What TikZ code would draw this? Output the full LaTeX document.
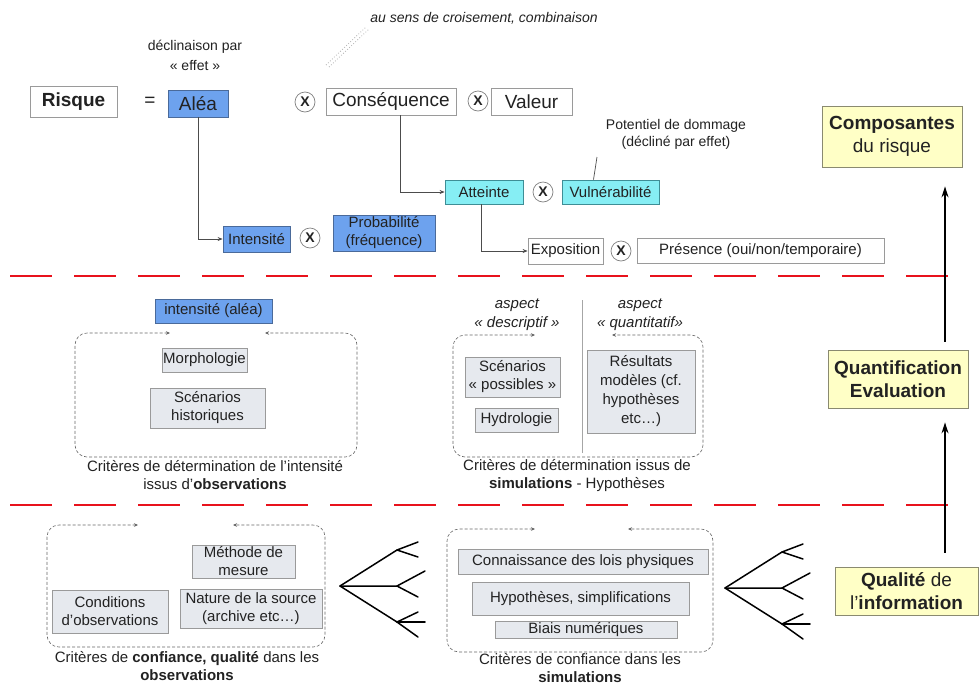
\documentclass[tikz,border=0pt]{standalone}
\usepackage{fontspec}
\setmainfont{Liberation Sans}
\usetikzlibrary{arrows.meta}
\definecolor{bluefill}{HTML}{6DA2EE}
\definecolor{blueline}{HTML}{4A6A9A}
\definecolor{cyanfill}{HTML}{86EEF4}
\definecolor{cyanline}{HTML}{3E8E96}
\definecolor{grayfill}{HTML}{E6E9EE}
\definecolor{grayline}{HTML}{9A9A9A}
\definecolor{yelfill}{HTML}{FFFFC6}
\definecolor{yelline}{HTML}{8A8A70}
\definecolor{reddash}{HTML}{E8121C}
\definecolor{txt}{HTML}{222222}
\begin{document}
\begin{tikzpicture}[x=1pt,y=-1pt,
  every node/.style={inner sep=0pt, text=txt},
  f15/.style={font=\fontsize{15}{18}\selectfont},
  f19/.style={font=\fontsize{19}{22}\selectfont},
  bx/.style={draw=grayline, fill=white, line width=0.8pt, align=center},
  whitebox/.style={bx, f15},
  bigbox/.style={bx, f19},
  bluebox/.style={bx, f15, fill=bluefill, draw=blueline},
  cyanbox/.style={bx, f15, fill=cyanfill, draw=cyanline},
  graybox/.style={bx, f15, fill=grayfill, draw=grayline},
  yelbox/.style={bx, fill=yelfill, draw=yelline, font=\fontsize{19}{23}\selectfont},
  xcirc/.style={circle, draw=gray, fill=white, line width=0.7pt, minimum size=20pt, font=\fontsize{14}{16}\selectfont\bfseries},
  conn/.style={draw=gray!60!black, line width=0.7pt, -{Stealth[length=5pt,width=4pt]}},
  dashframe/.style={draw=gray!80!black, dash pattern=on 3pt off 2pt, line width=0.6pt, rounded corners=12pt, {Stealth[length=4pt,width=3.5pt]}-{Stealth[length=4pt,width=3.5pt]}},
  redsep/.style={draw=reddash, line width=2.6pt, dash pattern=on 42pt off 22pt},
  bigarrow/.style={draw=black, line width=1.6pt, -{Stealth[length=11pt,width=7pt]}},
  treeline/.style={draw=black, line width=1.5pt, line cap=round},
  lbl/.style={f15, align=center},
  fork/.pic={
    \draw[treeline] (0,0) -- (57,-36) -- (78,-44);
    \draw[treeline] (57,-36) -- (78,-29);
    \draw[treeline] (0,0) -- (57,0) -- (85,-15);
    \draw[treeline] (57,0) -- (78,11);
    \draw[treeline] (0,0) -- (57,36) -- (78,51);
    \draw[treeline] (57,36) -- (78,26);
    \draw[treeline] (57,36) -- (85,36);
  },
]
\useasboundingbox (0,0) rectangle (980,686);
\fill[white] (0,0) rectangle (980,686);

% ---------- top section ----------
\node[font=\fontsize{14}{17}\selectfont\itshape] (sens) at (484,18) {au sens de croisement, combinaison};
\coordinate (d1a) at (326,65); \coordinate (d1b) at (366,27);
\coordinate (d2a) at (329,67); \coordinate (d2b) at (369,29);
\draw[gray!60, dotted, line width=0.8pt] (d1a) -- (d1b);
\draw[gray!60, dotted, line width=0.8pt] (d2a) -- (d2b);

\node[align=center, font=\fontsize{14}{20}\selectfont] (decl) at (195,55) {déclinaison par\\« effet »};

\node[bigbox, minimum width=87pt, minimum height=31pt] (risque) at (73.5,101.5) {\textbf{Risque}};
\node[f19] (eq) at (150,102) {=};
\node[bigbox, fill=bluefill, draw=blueline, minimum width=60pt, minimum height=27pt] (alea) at (198,103.5) {Aléa};
\node[xcirc] (x1) at (305,102) {X};
\node[bigbox, minimum width=130pt, minimum height=27pt] (cons) at (391,101.5) {Conséquence};
\node[xcirc] (x2) at (478,101) {X};
\node[bigbox, minimum width=81pt, minimum height=27pt] (valeur) at (531.5,101.5) {Valeur};

\node[align=center, font=\fontsize{14}{17}\selectfont] (pot) at (676,134) {Potentiel de dommage\\(décliné par effet)};

\node[cyanbox, minimum width=78pt, minimum height=24pt] (atteinte) at (484,192) {Atteinte};
\node[xcirc] (x3) at (543,192) {X};
\node[cyanbox, minimum width=97pt, minimum height=24pt] (vul) at (610.5,192) {Vulnérabilité};

\node[bluebox, minimum width=67pt, minimum height=26pt] (intensite) at (256.5,239) {Intensité};
\node[xcirc] (x4) at (310,238) {X};
\node[bluebox, minimum width=102pt, minimum height=36pt] (proba) at (384,233) {Probabilité\\(fréquence)};

\node[whitebox, minimum width=75pt, minimum height=26pt] (expo) at (565.5,251) {Exposition};
\node[xcirc] (x5) at (621,251) {X};
\node[whitebox, minimum width=247pt, minimum height=25pt] (presence) at (760.5,250.5) {Présence (oui/non/temporaire)};

\node[yelbox, minimum width=140pt, minimum height=61pt] (comp) at (892,136.5) {\textbf{Composantes}\\du risque};

\draw[conn] (alea.south) |- (intensite.west);
\draw[conn] ([xshift=9pt]cons.south) |- (atteinte.west);
\draw[conn] ([xshift=-3pt]atteinte.south) |- (expo.west);
\coordinate (potend) at (597,157);
\draw[draw=gray!60!black, line width=0.7pt] (potend) -- ([xshift=-17pt]vul.north);

% ---------- separators ----------
\draw[redsep] (10,276) -- (948,276);
\draw[redsep] (10,505) -- (950,505);

% ---------- middle section ----------
\node[bluebox, minimum width=117pt, minimum height=24pt] (intalea) at (213.5,311) {intensité (aléa)};
\draw[dashframe] (170,333) -- (75,333) -- (75,457) -- (357,457) -- (357,333) -- (265,333);
\node[graybox, minimum width=85pt, minimum height=24pt] (morpho) at (204.5,360) {Morphologie};
\node[graybox, minimum width=115pt, minimum height=40pt] (schist) at (207.5,408) {Scénarios\\historiques};
\node[lbl] (cap1) at (215,475) {Critères de détermination de l'intensité\\issus d'\textbf{observations}};

\node[lbl, font=\fontsize{15}{19}\selectfont\itshape] (asp1) at (517,315) {aspect\\« descriptif »};
\node[lbl, font=\fontsize{15}{19}\selectfont\itshape] (asp2) at (640,315) {aspect\\« quantitatif»};
\coordinate (vtop) at (582,300); \coordinate (vbot) at (582,453);
\draw[gray!70, line width=0.8pt] (vtop) -- (vbot);
\draw[dashframe] (535,335) -- (453,335) -- (453,457) -- (703,457) -- (703,335) -- (612,335);
\node[graybox, minimum width=95pt, minimum height=40pt] (scposs) at (512.5,377) {Scénarios\\« possibles »};
\node[graybox, minimum width=83pt, minimum height=24pt] (hydro) at (516.5,420) {Hydrologie};
\node[graybox, minimum width=108pt, minimum height=83pt, font=\fontsize{15}{19}\selectfont] (result) at (641,391.5) {Résultats\\modèles (cf.\\hypothèses\\etc…)};
\node[lbl] (cap2) at (577,476) {Critères de détermination issus de\\\textbf{simulations} - Hypothèses};

\node[yelbox, minimum width=140pt, minimum height=58pt] (quant) at (898,379) {\textbf{Quantification}\\\textbf{Evaluation}};

% ---------- bottom section ----------
\draw[dashframe] (138,525) -- (47,525) -- (47,647) -- (325,647) -- (325,525) -- (233,525);
\node[graybox, minimum width=103pt, minimum height=33pt] (methode) at (243.5,561.5) {Méthode de\\mesure};
\node[graybox, minimum width=116pt, minimum height=43pt] (cond) at (110,611.5) {Conditions\\d'observations};
\node[graybox, minimum width=142pt, minimum height=39pt] (nature) at (251,608.5) {Nature de la source\\(archive etc…)};
\node[lbl] (cap3) at (187,666) {Critères de \textbf{confiance, qualité} dans les\\\textbf{observations}};

\pic at (340,586) {fork};

\draw[dashframe] (535,529) -- (447,529) -- (447,652) -- (713,652) -- (713,529) -- (628,529);
\node[graybox, minimum width=250pt, minimum height=25pt] (lois) at (583,561.5) {Connaissance des lois physiques};
\node[graybox, minimum width=217pt, minimum height=33pt] (hyp) at (580.5,598.5) {Hypothèses, simplifications};
\node[graybox, minimum width=182pt, minimum height=17pt] (biais) at (586,629.5) {Biais numériques};
\node[lbl] (cap4) at (580,668) {Critères de confiance dans les\\\textbf{simulations}};

\pic at (725,588) {fork};

\node[yelbox, minimum width=143pt, minimum height=48pt] (qual) at (906.5,591) {\textbf{Qualité} de\\l'\textbf{information}};

% ---------- vertical arrows ----------
\coordinate (ax) at (945,0);
\draw[bigarrow, shorten <=8pt, shorten >=19pt] (quant.north -| ax) -- (comp.south -| ax);
\draw[bigarrow, shorten <=14pt, shorten >=14pt] (qual.north -| ax) -- (quant.south -| ax);
\end{tikzpicture}
\end{document}
